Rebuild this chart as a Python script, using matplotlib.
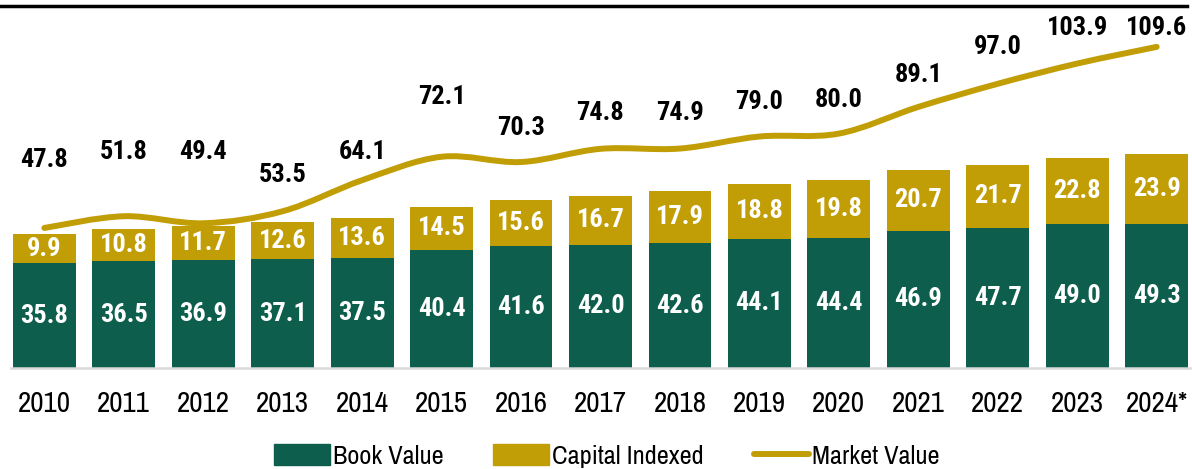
#!/usr/bin/env python3
"""Stacked book / capital indexed bars with smoothed market value line."""

import matplotlib
matplotlib.use("Agg")
import matplotlib.pyplot as plt
from matplotlib.path import Path
from matplotlib.patches import PathPatch, Patch
from matplotlib.lines import Line2D

years = ["2010", "2011", "2012", "2013", "2014", "2015", "2016", "2017",
         "2018", "2019", "2020", "2021", "2022", "2023", "2024*"]
book_value = [35.8, 36.5, 36.9, 37.1, 37.5, 40.4, 41.6, 42.0,
              42.6, 44.1, 44.4, 46.9, 47.7, 49.0, 49.3]
capital_indexed = [9.9, 10.8, 11.7, 12.6, 13.6, 14.5, 15.6, 16.7,
                   17.9, 18.8, 19.8, 20.7, 21.7, 22.8, 23.9]
market_value = [47.8, 51.8, 49.4, 53.5, 64.1, 72.1, 70.3, 74.8,
                74.9, 79.0, 80.0, 89.1, 97.0, 103.9, 109.6]

# where the market value labels sit (pixel rows in the original layout)
mv_label_px = [160, 152, 152, 175, 152, 97, 128, 113,
               113, 102, 100, 75, 47, 28, 28]

GREEN = "#0D5E4C"
GOLD = "#C29E06"
FONT = ["Archivo Narrow", "Liberation Sans", "DejaVu Sans"]
BOLD_FONT = ["Roboto Condensed", "DejaVu Sans"]

plt.rcParams["font.family"] = FONT

W, H = 1192, 469
fig = plt.figure(figsize=(W / 100, H / 100), dpi=100)
ax = fig.add_axes([11 / W, (H - 368) / H, 1179 / W, 362 / H])
PX_PER_UNIT = 2.93
ax.set_ylim(0, 362 / PX_PER_UNIT)
ax.set_xlim(-0.42, 14.42)

x = list(range(len(years)))
ax.bar(x, book_value, width=0.79, color=GREEN, zorder=2)
ax.bar(x, capital_indexed, width=0.79, bottom=book_value, color=GOLD, zorder=2)

for i in x:
    ax.text(i, book_value[i] / 2, f"{book_value[i]:.1f}", ha="center", va="center",
            color="white", fontsize=19, fontweight="bold", family=BOLD_FONT, zorder=4)
    ax.text(i, book_value[i] + capital_indexed[i] / 2, f"{capital_indexed[i]:.1f}",
            ha="center", va="center", color="white", fontsize=19,
            fontweight="bold", family=BOLD_FONT, zorder=4)
    ax.text(i, (368 - mv_label_px[i]) / PX_PER_UNIT, f"{market_value[i]:.1f}",
            ha="center", va="center", color="black", fontsize=19,
            fontweight="bold", family=BOLD_FONT, zorder=4)

# smoothed line (Catmull-Rom as cubic bezier segments, like Excel's smooth line)
pts = list(zip(x, market_value))
verts = [pts[0]]
codes = [Path.MOVETO]
for k in range(len(pts) - 1):
    p0 = pts[k - 1] if k > 0 else pts[k]
    p1, p2 = pts[k], pts[k + 1]
    p3 = pts[k + 2] if k + 2 < len(pts) else pts[k + 1]
    c1 = (p1[0] + (p2[0] - p0[0]) / 6, p1[1] + (p2[1] - p0[1]) / 6)
    c2 = (p2[0] - (p3[0] - p1[0]) / 6, p2[1] - (p3[1] - p1[1]) / 6)
    verts += [c1, c2, p2]
    codes += [Path.CURVE4] * 3
ax.add_patch(PathPatch(Path(verts, codes), facecolor="none", edgecolor=GOLD,
                       lw=4.3, capstyle="round", joinstyle="round", zorder=3))

for s in ["top", "right", "left"]:
    ax.spines[s].set_visible(False)
ax.spines["bottom"].set_color("#D9D9D9")
ax.spines["bottom"].set_linewidth(1.8)
ax.set_yticks([])
ax.set_xticks(x)
ax.set_xticklabels(years, fontsize=21)
ax.tick_params(axis="x", length=0, pad=16)

# black rule at the top of the slide
fig.add_artist(Line2D([0, 1187 / W], [1 - 6 / H, 1 - 6 / H], color="black", lw=2.5))

handles = [Patch(color=GREEN, label="Book Value"),
           Patch(color=GOLD, label="Capital Indexed"),
           Line2D([], [], color=GOLD, lw=4.3, solid_capstyle="round", label="Market Value")]
fig.legend(handles=handles, loc="center", bbox_to_anchor=(607 / W, 1 - 456 / H),
           ncol=3, frameon=False, fontsize=19, handlelength=2.1, handleheight=0.8,
           handletextpad=0.12, columnspacing=1.9, borderpad=0)

fig.savefig("out.png", dpi=100)
